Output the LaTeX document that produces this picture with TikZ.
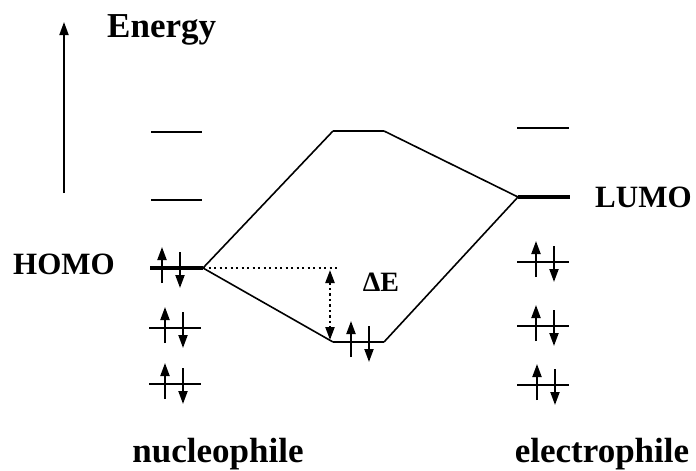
\documentclass[tikz,border=0pt]{standalone}
\usepackage{fontspec}
\setmainfont{Liberation Serif}
\usetikzlibrary{arrows.meta,positioning}

\begin{document}
\begin{tikzpicture}[x=1pt, y=-1pt, >={Triangle[length=13pt,width=9pt]},
  level/.style={line width=2pt},
  frontier/.style={line width=4.5pt},
  spin/.style={line width=2pt, ->},
  corr/.style={line width=1.6pt},
  gapline/.style={line width=2.2pt, dash pattern=on 2.2pt off 3.3pt},
  biglbl/.style={font=\fontsize{35}{40}\selectfont\bfseries, inner sep=0pt},
  midlbl/.style={font=\fontsize{31}{36}\selectfont\bfseries, inner sep=0pt}]
  \useasboundingbox (0,0) rectangle (696,471);

  % Energy axis
  \coordinate (axis-lo) at (64,193);
  \coordinate (axis-hi) at (64,22);
  \draw[->, line width=1.8pt] (axis-lo) -- (axis-hi);
  \node[biglbl, anchor=base west] (energy) at (107,37) {Energy};

  % Nucleophile levels
  \foreach \y/\nm in {132/nu1, 200/nu2}{
    \coordinate (\nm-l) at (151,\y);
    \coordinate (\nm-r) at (202,\y);
    \draw[level] (\nm-l) -- (\nm-r);
  }
  \coordinate (homo-l) at (150,268);
  \coordinate (homo-r) at (203,268);
  \draw[frontier] (homo-l) -- (homo-r);
  \node[midlbl, anchor=base west] (homo) at (13,274) {HOMO};
  \foreach \y in {328,384}{
    \draw[level] (149,\y) -- (201,\y);
  }

  % Electrophile levels
  \coordinate (el1-l) at (517,128);
  \coordinate (el1-r) at (569,128);
  \draw[level] (el1-l) -- (el1-r);
  \coordinate (lumo-l) at (518,197);
  \coordinate (lumo-r) at (570,197);
  \draw[frontier] (lumo-l) -- (lumo-r);
  \node[midlbl, anchor=base west] (lumo) at (595,207) {LUMO};
  \foreach \y in {262,326,385}{
    \draw[level] (517,\y) -- (569,\y);
  }

  % Combined orbitals
  \coordinate (anti-l) at (333,131);
  \coordinate (anti-r) at (384,131);
  \coordinate (bond-l) at (333,342);
  \coordinate (bond-r) at (384,342);
  \draw[corr] (anti-l) -- (anti-r);
  \draw[corr] (bond-l) -- (bond-r);
  \draw[corr] (homo-r) -- (anti-l);
  \draw[corr] (anti-r) -- (lumo-l);
  \draw[corr] (homo-r) -- (bond-l);
  \draw[corr] (bond-r) -- (lumo-l);

  % Electron pairs
  \foreach \x/\y in {171/268, 174/328, 174/384, 545/262, 545/326, 546/385, 360/342}{
    \draw[spin] (\x-9,\y+15) -- (\x-9,\y-21);
    \draw[spin] (\x+9,\y-16) -- (\x+9,\y+20);
  }

  % Energy gap
  \coordinate (gap-r) at (340,268);
  \coordinate (gap-top) at (330,270);
  \coordinate (gap-bot) at (330,340);
  \draw[gapline] (homo-r) -- (gap-r);
  \draw[gapline, <->] (gap-top) -- (gap-bot);
  \node[font=\fontsize{28}{32}\selectfont\bfseries, inner sep=0pt, anchor=base] (gap) at (381,291) {ΔE};

  % Molecule labels
  \node[biglbl, anchor=base] (nuc) at (218,462) {nucleophile};
  \node[biglbl, anchor=base] (elec) at (602,462) {electrophile};
\end{tikzpicture}
\end{document}
